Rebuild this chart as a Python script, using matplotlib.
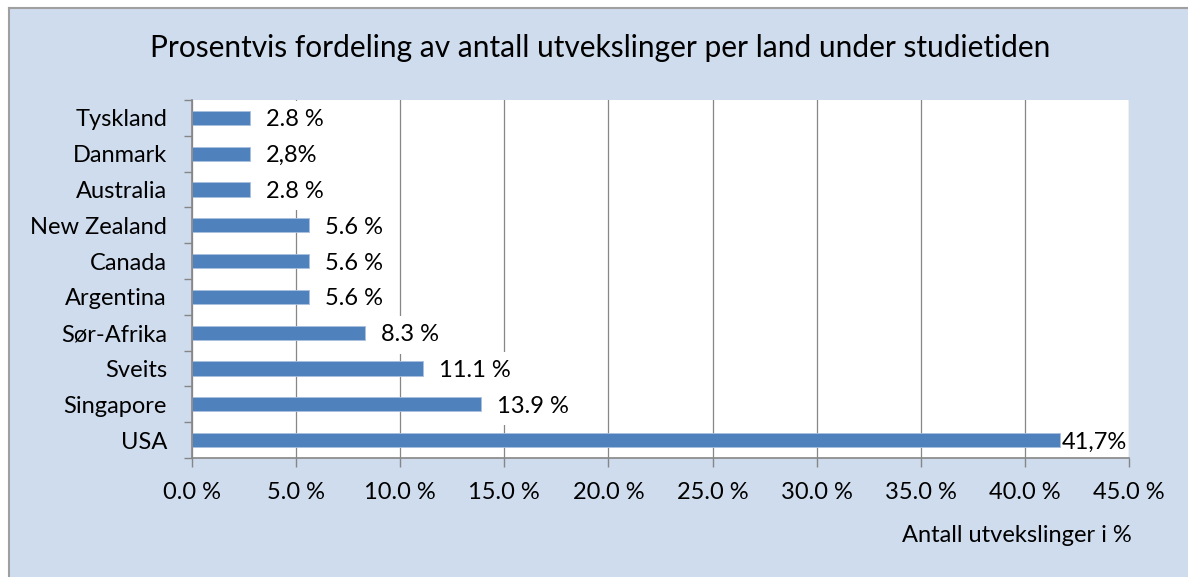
import numpy as np
import matplotlib
matplotlib.use("Agg")
import matplotlib.pyplot as plt
from matplotlib.patches import Rectangle
from matplotlib.path import Path
from matplotlib.ticker import FuncFormatter, MultipleLocator

# Data (bottom to top as drawn)
land = ["USA", "Singapore", "Sveits", "Sør-Afrika", "Argentina",
        "Canada", "New Zealand", "Australia", "Danmark", "Tyskland"]
prosent = [41.7, 13.9, 11.1, 8.3, 5.6, 5.6, 5.6, 2.8, 2.8, 2.8]
etiketter = ["41,7%", "13.9 %", "11.1 %", "8.3 %", "5.6 %",
             "5.6 %", "5.6 %", "2.8 %", "2,8%", "2.8 %"]

tittel = "Prosentvis fordeling av antall utvekslinger per land under studietiden"
x_tittel = "Antall utvekslinger i %"

plt.rcParams['font.family'] = ['Lato', 'DejaVu Sans']

W, H, DPI = 1188, 577, 100
bg = "#CFDCEE"
bar_col = "#4F81BD"
grid_col = "#868686"
fs = 17

fig = plt.figure(figsize=(W / DPI, H / DPI), dpi=DPI)
fig.patch.set_facecolor("white")

# Chart area background + left/top border (pixel coords)
fig.patches.append(Rectangle((8.5 / W, 0), 1, 1 - 7.5 / H, transform=fig.transFigure,
                             facecolor=bg, edgecolor="none", zorder=-10))
fig.add_artist(plt.Line2D([8.5 / W, 8.5 / W], [0, 1 - 7.5 / H], transform=fig.transFigure,
                          color="#A0A0A0", lw=1.5, zorder=-5))
fig.add_artist(plt.Line2D([8.5 / W, 1], [1 - 7.5 / H, 1 - 7.5 / H], transform=fig.transFigure,
                          color="#A0A0A0", lw=1.5, zorder=-5))

ax = fig.add_axes([192 / W, 1 - 458 / H, (1129 - 192) / W, (458 - 100) / H])
ax.set_zorder(1)
ax.set_facecolor("white")

y = np.arange(len(land))
ax.barh(y, prosent, height=0.4, color=bar_col, edgecolor="#A9C0DE", linewidth=0.6, zorder=2)

ax.set_xlim(0, 45)
ax.set_ylim(-0.5, len(land) - 0.5)
ax.xaxis.set_major_locator(MultipleLocator(5))
ax.xaxis.set_major_formatter(FuncFormatter(lambda v, p: f"{v:.1f} %"))
ax.grid(axis="x", color=grid_col, linewidth=0.9, zorder=1)
ax.set_axisbelow(True)

ax.set_yticks(y)
ax.set_yticklabels(land)
ax.set_yticks(np.arange(-0.5, len(land), 1), minor=True)
ax.tick_params(axis="y", which="major", length=0, pad=18, labelsize=fs)
ax.tick_params(axis="y", which="minor", length=6, width=1, color=grid_col, direction="out")
ax.tick_params(axis="x", length=6.5, width=1, color=grid_col, direction="out", pad=11, labelsize=fs)

for side in ["top", "right"]:
    ax.spines[side].set_visible(False)
for side in ["left", "bottom"]:
    ax.spines[side].set_color(grid_col)
    ax.spines[side].set_linewidth(1.2)


def label_box(x0, y0, width, height, mutation_size):
    hp = 0.3 * mutation_size
    vp = 0.35 * mutation_size
    x0, x1 = x0 - hp, x0 + width + hp
    y0, y1 = y0 - vp, y0 + height + vp
    return Path([(x0, y0), (x1, y0), (x1, y1), (x0, y1), (x0, y0)], closed=True)


vmax = max(prosent)
for yi, v, t in zip(y, prosent, etiketter):
    dx = 1 if v == vmax else 11.5
    ax.annotate(t, xy=(v, yi), xytext=(dx, -1.5), textcoords="offset points",
                ha="left", va="center", fontsize=fs, zorder=4, annotation_clip=False,
                bbox=dict(boxstyle=label_box, fc="white", ec="none") if v != vmax else None)

fig.text(600 / W, 1 - 48 / H, tittel, ha="center", va="center", fontsize=21.5)
fig.text(1017 / W, 1 - 536 / H, x_tittel, ha="center", va="center", fontsize=fs)

fig.savefig("out.png", dpi=DPI, facecolor=fig.get_facecolor())
